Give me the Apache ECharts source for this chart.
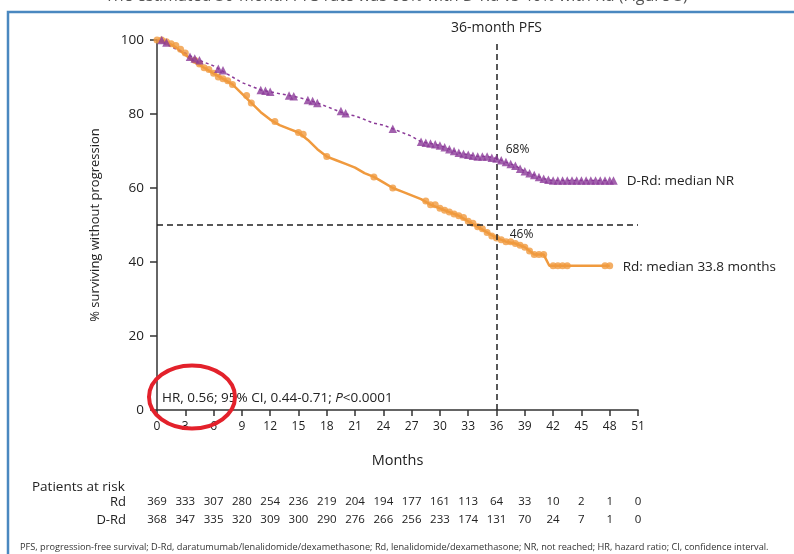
<!DOCTYPE html>
<html>
<head>
<meta charset="utf-8">
<script src="https://cdn.jsdelivr.net/npm/echarts@6/dist/echarts.min.js"></script>
<style>
  html, body { margin: 0; padding: 0; background: #fff; }
  #chart { width: 794px; height: 554px; }
</style>
</head>
<body>
<div id="chart"></div>
<script>
// ---------- data ----------
const xTicks = [0, 3, 6, 9, 12, 15, 18, 21, 24, 27, 30, 33, 36, 39, 42, 45, 48, 51];
const yTicks = [0, 20, 40, 60, 80, 100];

const rdAtRisk  = [369, 333, 307, 280, 254, 236, 219, 204, 194, 177, 161, 113, 64, 33, 10, 2, 1, 0];
const drdAtRisk = [368, 347, 335, 320, 309, 300, 290, 276, 266, 256, 233, 174, 131, 70, 24, 7, 1, 0];

const rdCurve = [[0,100],[1,99.5],[2,98],[3,96],[4,94],[5,92.5],[6,91],[7,89.5],[8,88],[9,85.5],[10,83],[11,80.5],[12,78.5],[13,77],[14,76],[15,75],[16,73],[17,70.5],[18,68.5],[19,67.5],[20,66.5],[21,65.5],[22,64],[23,63],[24,61.5],[25,60],[26,59],[27,58],[28,57],[29,55.5],[30,54.5],[31,53.5],[32,52.5],[33,51],[34,49.5],[35,48],[36,46.5],[37,45.5],[38,45],[39,44],[40,42],[41,42],[41.6,39],[43,39],[48,39]];

const drdCurve = [[0,100],[1,99],[2,97.5],[3,96.5],[4,95],[5,94],[6,93],[7,91.5],[8,90],[9,88.5],[10,87.5],[11,86.5],[12,86],[13,85.5],[14,85],[15,84.5],[16,83.8],[17,83],[18,82],[19,81],[20,80],[21,79.5],[22,78.5],[23,77.5],[24,77],[25,76],[26,75],[27,74],[28,72.5],[29,72],[30,71.5],[31,70.5],[32,69.5],[33,69],[34,68.5],[35,68.5],[36,68],[37,67],[38,66],[39,64.5],[40,63.5],[41,62.5],[42,62],[48,62]];

const rdCensor = [[0,100],[0.5,100],[1,99.5],[1.5,99],[2,98.5],[2.5,97.5],[3,96.5],[4,94.5],[4.5,93.5],[5,92.5],[5.5,92],[6,91],[6.5,90],[7,89.5],[7.5,89],[8,88],[9.5,85],[10,83],[12.5,78],[15,75],[15.5,74.5],[18,68.5],[23,63],[25,60],[28.5,56.5],[29,55.5],[29.5,55.5],[30,54.5],[30.5,54],[31,53.5],[31.5,53],[32,52.5],[32.5,52],[33,51],[33.5,50.5],[34,49.5],[34.5,49],[35,48],[35.5,47],[36,46.5],[36.5,46],[37,45.5],[37.5,45.5],[38,45],[38.5,44.5],[39,44],[39.5,43],[40,42],[40.5,42],[41,42],[42,39],[42.5,39],[43,39],[43.5,39],[47.5,39],[48,39]];

const drdCensor = [[0.5,100],[1,99.3],[3.5,95.5],[4,95],[4.5,94.5],[6.5,92.2],[7,91.8],[11,86.5],[11.5,86.3],[12,86],[14,85],[14.5,84.8],[16,83.8],[16.5,83.5],[17,83],[19.5,80.8],[20,80.2],[25,76],[28,72.5],[28.5,72.2],[29,72],[29.5,71.8],[30,71.5],[30.5,71],[31,70.5],[31.5,70],[32,69.5],[32.5,69.2],[33,69],[33.5,68.7],[34,68.5],[34.5,68.5],[35,68.5],[35.5,68.2],[36,68],[36.5,67.5],[37,67],[37.5,66.5],[38,66],[38.5,65.2],[39,64.5],[39.5,64],[40,63.5],[40.5,63],[41,62.5],[41.5,62.2],[42,62],[42.5,62],[43,62],[43.5,62],[44,62],[44.5,62],[45,62],[45.5,62],[46,62],[46.5,62],[47,62],[47.5,62],[48,62],[48.4,62]];

const pfs36Month = 36;
const medianLine = 50;
const drdAt36 = 68;
const rdAt36 = 46;

// ---------- chart ----------
const ORANGE = '#F09A3E';
const PURPLE = '#8B3A98';
const FONT = "'Open Sans', 'Liberation Sans', sans-serif";
const TXT = '#222';

const chart = echarts.init(document.getElementById('chart'), null, { renderer: 'canvas' });

function riskAxis(arr, offset) {
  return {
    type: 'value', gridIndex: 0, position: 'bottom', min: 0, max: 51, interval: 3,
    offset: offset,
    axisLine: { show: false }, axisTick: { show: false }, splitLine: { show: false },
    axisLabel: {
      margin: 0, fontSize: 11.5, color: TXT, fontFamily: FONT,
      formatter: v => { const i = xTicks.indexOf(v); return i >= 0 ? String(arr[i]) : ''; }
    }
  };
}

const option = {
  animation: false,
  backgroundColor: '#fff',
  grid: { left: 157, right: 156, top: 40, bottom: 144, containLabel: false },
  xAxis: [
    {
      type: 'value', min: 0, max: 51, interval: 3,
      name: 'Months', nameLocation: 'middle', nameGap: 43,
      nameTextStyle: { fontSize: 14.5, color: TXT, fontFamily: FONT },
      axisLine: { show: true, lineStyle: { color: '#333', width: 1.5 } },
      axisTick: { show: true, length: 6, lineStyle: { color: '#333', width: 1.5 } },
      axisLabel: { margin: 11, fontSize: 12, color: TXT, fontFamily: FONT },
      splitLine: { show: false }
    },
    riskAxis(rdAtRisk, 86),
    riskAxis(drdAtRisk, 104)
  ],
  yAxis: {
    type: 'value', min: 0, max: 100, interval: 20,
    name: '% surviving without progression', nameLocation: 'middle', nameGap: 55,
    nameTextStyle: { fontSize: 13, color: TXT, fontFamily: FONT },
    axisLine: { show: true, lineStyle: { color: '#333', width: 1.5 } },
    axisTick: { show: true, length: 7, lineStyle: { color: '#333', width: 1.5 } },
    axisLabel: { margin: 13, fontSize: 13.5, color: TXT, fontFamily: FONT },
    splitLine: { show: false }
  },
  series: [
    {
      name: 'Rd', type: 'line', data: rdCurve, showSymbol: false, symbol: 'none',
      lineStyle: { color: ORANGE, width: 2.5 }, z: 3,
      endLabel: { show: true, formatter: 'Rd: median 33.8 months', offset: [5, 1],
        fontSize: 13.5, color: TXT, fontFamily: FONT },
      markLine: {
        silent: true, symbol: 'none',
        lineStyle: { color: '#222', type: [6, 4], width: 1.5 },
        label: { show: false },
        data: [
          { xAxis: pfs36Month, label: { show: true, position: 'end', formatter: '36-month PFS', distance: 5,
              fontSize: 14, color: TXT, fontFamily: FONT } },
          { yAxis: medianLine }
        ]
      },
      markPoint: {
        symbol: 'circle', symbolSize: 0,
        data: [
          { coord: [pfs36Month, rdAt36], label: { show: true, formatter: rdAt36 + '%', offset: [25, -5],
              fontSize: 12, color: TXT, fontFamily: FONT } }
        ]
      }
    },
    {
      name: 'D-Rd', type: 'line', data: drdCurve, showSymbol: false, symbol: 'none',
      lineStyle: { color: PURPLE, width: 1.5, type: [3, 3] }, z: 3,
      endLabel: { show: true, formatter: 'D-Rd: median NR', offset: [9, 1],
        fontSize: 13.5, color: TXT, fontFamily: FONT },
      markPoint: {
        symbol: 'circle', symbolSize: 0,
        data: [
          { coord: [pfs36Month, drdAt36], label: { show: true, formatter: drdAt36 + '%', offset: [21, -9],
              fontSize: 12, color: TXT, fontFamily: FONT } }
        ]
      }
    },
    {
      name: 'Rd censored', type: 'scatter', data: rdCensor, symbol: 'circle', symbolSize: 7,
      itemStyle: { color: ORANGE }, z: 4
    },
    {
      name: 'D-Rd censored', type: 'scatter', data: drdCensor, symbol: 'triangle', symbolSize: 8.5,
      itemStyle: { color: PURPLE }, z: 5
    }
  ],
  graphic: [
    { type: 'rect', shape: { x: 8, y: 12, width: 820, height: 580 },
      style: { fill: 'none', stroke: '#4A88C0', lineWidth: 2.5 }, z: 0 },
    { type: 'text', left: 105, top: -12,
      style: { text: 'The estimated 36-month PFS rate was 68% with D-Rd vs 46% with Rd (Figure 3)',
        fontSize: 16, fill: '#555', fontFamily: FONT } },
    { type: 'text', x: 162, y: 398,
      style: {
        text: '{n|HR, 0.56; 95% CI, 0.44-0.71; }{i|P}{n|<0.0001}',
        verticalAlign: 'middle', align: 'left',
        rich: {
          n: { fontSize: 13.5, fill: TXT, fontFamily: FONT },
          i: { fontSize: 13.5, fill: TXT, fontFamily: FONT, fontStyle: 'italic' }
        }
      }, z: 10 },
    { type: 'ellipse', shape: { cx: 192, cy: 397, rx: 43, ry: 31.5 },
      style: { fill: 'none', stroke: '#E3212B', lineWidth: 4 }, z: 20 },
    { type: 'text', x: 32, y: 487,
      style: { text: 'Patients at risk', fontSize: 13.5, fill: TXT, fontFamily: FONT, verticalAlign: 'middle' } },
    { type: 'text', x: 126, y: 502,
      style: { text: 'Rd', fontSize: 13, fill: TXT, fontFamily: FONT, align: 'right', verticalAlign: 'middle' } },
    { type: 'text', x: 126, y: 520,
      style: { text: 'D-Rd', fontSize: 13, fill: TXT, fontFamily: FONT, align: 'right', verticalAlign: 'middle' } },
    { type: 'text', x: 20, y: 547,
      style: { text: 'PFS, progression-free survival; D-Rd, daratumumab/lenalidomide/dexamethasone; Rd, lenalidomide/dexamethasone; NR, not reached; HR, hazard ratio; CI, confidence interval.',
        fontSize: 9.2, fill: '#333', fontFamily: FONT, verticalAlign: 'middle' } }
  ]
};

chart.setOption(option);
</script>
</body>
</html>
